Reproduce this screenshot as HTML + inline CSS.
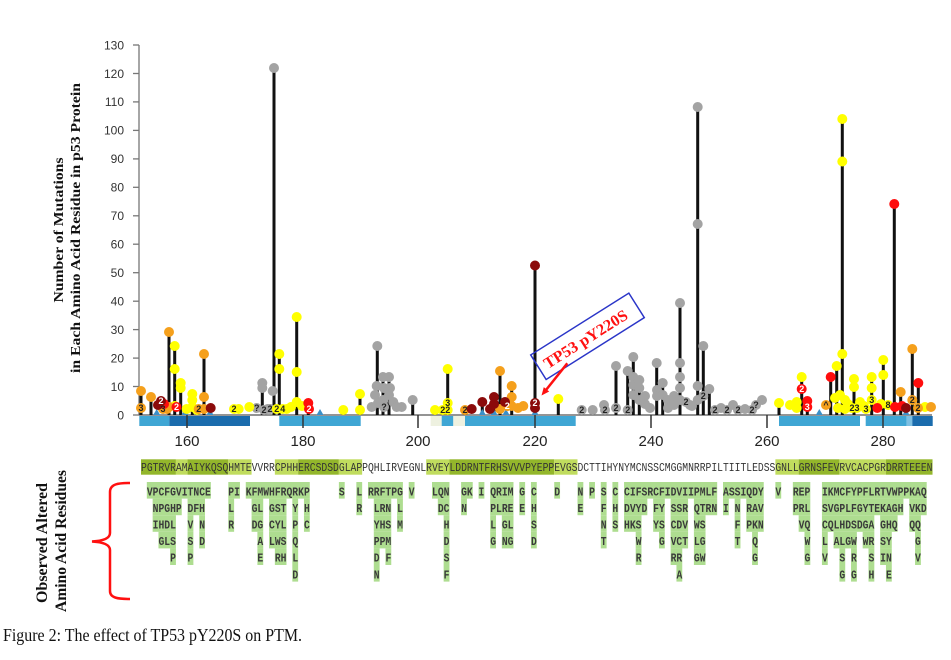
<!DOCTYPE html>
<html><head><meta charset="utf-8"><style>
html,body{margin:0;padding:0;background:#fff;}
svg{display:block;}
.tk{font-family:"Liberation Sans",Arial,sans-serif;font-size:12px;fill:#333;}
.xt{font-family:"Liberation Sans",Arial,sans-serif;font-size:15px;fill:#222;}
.ti{font-family:"Liberation Serif","Times New Roman",serif;font-weight:bold;fill:#111;}
.sq{font-family:"Liberation Mono",monospace;font-size:12px;fill:#333;}
.g text{font-family:"Liberation Mono",monospace;font-weight:bold;font-size:12px;fill:#3a3a3a;}
.lb{font-family:"Liberation Sans",Arial,sans-serif;font-weight:bold;font-size:9px;text-anchor:middle;}
</style></head><body>
<svg width="951" height="660" viewBox="0 0 951 660" xmlns="http://www.w3.org/2000/svg">
<rect width="951" height="660" fill="#fff"/>

<!-- Y axis title -->
<text class="ti" font-size="14" text-anchor="middle" textLength="145" lengthAdjust="spacingAndGlyphs" transform="translate(63,230) rotate(-90)">Number of Mutations</text>
<text class="ti" font-size="14" text-anchor="middle" textLength="290" lengthAdjust="spacingAndGlyphs" transform="translate(80,228) rotate(-90)">in Each Amino Acid Residue in p53 Protein</text>

<!-- Y axis -->
<g stroke="#777" stroke-width="1.3">
<line x1="139" y1="45" x2="139" y2="415"/>
<line x1="133" y1="415" x2="139" y2="415"/><line x1="133" y1="386.5" x2="139" y2="386.5"/><line x1="133" y1="358.1" x2="139" y2="358.1"/><line x1="133" y1="329.6" x2="139" y2="329.6"/><line x1="133" y1="301.2" x2="139" y2="301.2"/><line x1="133" y1="272.7" x2="139" y2="272.7"/><line x1="133" y1="244.2" x2="139" y2="244.2"/><line x1="133" y1="215.8" x2="139" y2="215.8"/><line x1="133" y1="187.3" x2="139" y2="187.3"/><line x1="133" y1="158.9" x2="139" y2="158.9"/><line x1="133" y1="130.4" x2="139" y2="130.4"/><line x1="133" y1="101.9" x2="139" y2="101.9"/><line x1="133" y1="73.5" x2="139" y2="73.5"/><line x1="133" y1="45" x2="139" y2="45"/>
</g>
<g class="tk" text-anchor="end">
<text x="124" y="419.3">0</text><text x="124" y="390.8">10</text><text x="124" y="362.4">20</text><text x="124" y="333.9">30</text><text x="124" y="305.5">40</text><text x="124" y="277">50</text><text x="124" y="248.5">60</text><text x="124" y="220.1">70</text><text x="124" y="191.6">80</text><text x="124" y="163.2">90</text><text x="124" y="134.7">100</text><text x="124" y="106.2">110</text><text x="124" y="77.8">120</text><text x="124" y="49.3">130</text>
</g>

<!-- domain bars -->
<rect x="139.3" y="416" width="30" height="10" fill="#3fa6d4"/>
<rect x="169.3" y="416" width="80.7" height="10" fill="#1a6cad"/>
<rect x="279.3" y="416" width="81.4" height="10" fill="#3fa6d4"/>
<rect x="430.7" y="416" width="11" height="10" fill="#eef1e0"/>
<rect x="441.7" y="416" width="11.6" height="10" fill="#3fa6d4"/>
<rect x="453.3" y="416" width="11.7" height="10" fill="#eef1e0"/>
<rect x="465" y="416" width="110.7" height="10" fill="#3fa6d4"/>
<rect x="779" y="416" width="81" height="10" fill="#3fa6d4"/>
<rect x="865.7" y="416" width="41" height="10" fill="#3fa6d4"/>
<rect x="906.7" y="416" width="5.6" height="10" fill="#7dbfe2"/>
<rect x="912.3" y="416" width="20.4" height="10" fill="#1a6cad"/>

<!-- x axis -->
<line x1="139" y1="415" x2="932" y2="415" stroke="#555" stroke-width="1.2"/>
<g stroke="#333" stroke-width="1.5">
<line x1="187" y1="415" x2="428" y2="415" stroke="none"/>
<line x1="187" y1="415" x2="187" y2="428"/><line x1="303" y1="415" x2="303" y2="428"/><line x1="418" y1="415" x2="418" y2="428"/><line x1="535" y1="415" x2="535" y2="428"/><line x1="651" y1="415" x2="651" y2="428"/><line x1="767" y1="415" x2="767" y2="428"/><line x1="883" y1="415" x2="883" y2="428"/>
</g>
<g class="xt" text-anchor="middle">
<text x="187" y="446">160</text><text x="303" y="446">180</text><text x="418" y="446">200</text><text x="535" y="446">220</text><text x="651" y="446">240</text><text x="767" y="446">260</text><text x="883" y="446">280</text>
</g>

<!-- sticks -->
<g stroke="#111" stroke-width="3">
<line x1="141" y1="415" x2="141" y2="391"/>
<line x1="151" y1="415" x2="151" y2="397"/>
<line x1="169" y1="415" x2="169" y2="332"/>
<line x1="174.7" y1="415" x2="174.7" y2="346"/>
<line x1="180.7" y1="415" x2="180.7" y2="383"/>
<line x1="192.3" y1="415" x2="192.3" y2="394"/>
<line x1="204" y1="415" x2="204" y2="354"/>
<line x1="262.3" y1="415" x2="262.3" y2="383"/>
<line x1="274" y1="415" x2="274" y2="68"/>
<line x1="279.3" y1="415" x2="279.3" y2="354"/>
<line x1="296.7" y1="415" x2="296.7" y2="317"/>
<line x1="308.3" y1="415" x2="308.3" y2="403"/>
<line x1="360" y1="415" x2="360" y2="394"/>
<line x1="377.3" y1="415" x2="377.3" y2="346"/>
<line x1="383" y1="415" x2="383" y2="377"/>
<line x1="389" y1="415" x2="389" y2="377"/>
<line x1="412.7" y1="415" x2="412.7" y2="400"/>
<line x1="447.7" y1="415" x2="447.7" y2="369"/>
<line x1="482.3" y1="415" x2="482.3" y2="402"/>
<line x1="494" y1="415" x2="494" y2="397"/>
<line x1="500" y1="415" x2="500" y2="371"/>
<line x1="511.7" y1="415" x2="511.7" y2="386"/>
<line x1="535" y1="415" x2="535" y2="265.5"/>
<line x1="558.3" y1="415" x2="558.3" y2="399"/>
<line x1="616" y1="415" x2="616" y2="366"/>
<line x1="627.7" y1="415" x2="627.7" y2="371"/>
<line x1="633.3" y1="415" x2="633.3" y2="357"/>
<line x1="639.3" y1="415" x2="639.3" y2="380"/>
<line x1="656.7" y1="415" x2="656.7" y2="363"/>
<line x1="662.7" y1="415" x2="662.7" y2="383"/>
<line x1="680" y1="415" x2="680" y2="303"/>
<line x1="697.7" y1="415" x2="697.7" y2="107"/>
<line x1="703.3" y1="415" x2="703.3" y2="346"/>
<line x1="709.3" y1="415" x2="709.3" y2="389"/>
<line x1="779" y1="415" x2="779" y2="403"/>
<line x1="801.7" y1="415" x2="801.7" y2="377"/>
<line x1="807.3" y1="415" x2="807.3" y2="401"/>
<line x1="830.7" y1="415" x2="830.7" y2="377"/>
<line x1="836.7" y1="415" x2="836.7" y2="366"/>
<line x1="842.3" y1="415" x2="842.3" y2="119"/>
<line x1="854" y1="415" x2="854" y2="379"/>
<line x1="871.7" y1="415" x2="871.7" y2="377"/>
<line x1="883.3" y1="415" x2="883.3" y2="360"/>
<line x1="894.3" y1="415" x2="894.3" y2="204"/>
<line x1="900.7" y1="415" x2="900.7" y2="392"/>
<line x1="912.3" y1="415" x2="912.3" y2="349"/>
<line x1="918.3" y1="415" x2="918.3" y2="383"/>
</g>

<!-- blue triangles -->
<g fill="#3a8fc8">
<polygon points="153.2,415 156.7,409 160.2,415"/><polygon points="181.5,415 185,409 188.5,415"/><polygon points="206.5,415 210,409 213.5,415"/><polygon points="316.5,415 320,409 323.5,415"/><polygon points="478.8,415 482.3,409 485.8,415"/><polygon points="490.5,415 494,409 497.5,415"/><polygon points="502.5,415 506,409 509.5,415"/><polygon points="531.5,415 535,409 538.5,415"/><polygon points="815.8,415 819.3,409 822.8,415"/><polygon points="902.5,415 906,409 909.5,415"/>
</g>

<!-- grey circles -->
<g fill="#a3a3a3">
<circle cx="256.7" cy="408" r="5"/><circle cx="262.3" cy="383" r="5"/><circle cx="262.3" cy="388" r="5"/><circle cx="264" cy="410" r="5"/><circle cx="267.7" cy="409" r="5"/><circle cx="270" cy="409" r="5"/><circle cx="272.7" cy="391" r="5"/><circle cx="274" cy="68" r="5"/>
<circle cx="377.3" cy="346" r="5"/><circle cx="376.7" cy="386" r="5"/><circle cx="375" cy="395" r="5"/><circle cx="371.7" cy="407" r="5"/><circle cx="383" cy="377" r="5"/><circle cx="389" cy="377" r="5"/><circle cx="384" cy="388" r="5"/><circle cx="390" cy="388" r="5"/><circle cx="383.3" cy="400" r="5"/><circle cx="393.3" cy="402" r="5"/><circle cx="396.7" cy="407" r="5"/><circle cx="401.7" cy="407" r="5"/><circle cx="384" cy="407" r="5"/><circle cx="378" cy="403" r="5"/><circle cx="389" cy="395" r="5"/><circle cx="412.7" cy="400" r="5"/>
<circle cx="581.7" cy="410" r="5"/><circle cx="592.7" cy="410" r="5"/><circle cx="604" cy="405" r="5"/><circle cx="605" cy="410" r="5"/><circle cx="616" cy="366" r="5"/><circle cx="616" cy="408" r="5"/><circle cx="627.7" cy="371" r="5"/><circle cx="627.7" cy="410" r="5"/><circle cx="633.3" cy="357" r="5"/><circle cx="633.3" cy="377" r="5"/><circle cx="633.3" cy="385" r="5"/><circle cx="633.3" cy="395" r="5"/><circle cx="639.3" cy="380" r="5"/><circle cx="639.3" cy="388" r="5"/><circle cx="639.3" cy="400" r="5"/><circle cx="645" cy="396" r="5"/><circle cx="645" cy="404" r="5"/><circle cx="650" cy="408" r="5"/><circle cx="656.7" cy="363" r="5"/><circle cx="657" cy="390" r="5"/><circle cx="657" cy="396" r="5"/><circle cx="662.7" cy="383" r="5"/><circle cx="662.7" cy="395" r="5"/><circle cx="668" cy="400" r="5"/><circle cx="668" cy="408" r="5"/><circle cx="674" cy="396" r="5"/><circle cx="674" cy="405" r="5"/><circle cx="680" cy="303" r="5"/><circle cx="680" cy="363" r="5"/><circle cx="680" cy="377" r="5"/><circle cx="680" cy="388" r="5"/><circle cx="680" cy="400" r="5"/><circle cx="686" cy="402" r="5"/><circle cx="690" cy="405" r="5"/><circle cx="692" cy="406" r="5"/><circle cx="697.7" cy="107" r="5"/><circle cx="697.7" cy="224" r="5"/><circle cx="697.7" cy="386" r="5"/><circle cx="697.7" cy="400" r="5"/><circle cx="703.3" cy="346" r="5"/><circle cx="703.3" cy="396" r="5"/><circle cx="709.3" cy="389" r="5"/><circle cx="715" cy="410" r="5"/><circle cx="721" cy="408" r="5"/><circle cx="727" cy="410" r="5"/><circle cx="733" cy="405" r="5"/><circle cx="738" cy="410" r="5"/><circle cx="745" cy="409" r="5"/><circle cx="752" cy="410" r="5"/><circle cx="756" cy="405" r="5"/><circle cx="762" cy="400" r="5"/>
</g>

<!-- yellow circles -->
<g fill="#ffff00">
<circle cx="174.7" cy="346" r="5"/><circle cx="174.7" cy="369" r="5"/><circle cx="174.7" cy="406" r="5"/><circle cx="180.7" cy="383" r="5"/><circle cx="180.7" cy="388" r="5"/><circle cx="186.7" cy="409" r="5"/><circle cx="192.3" cy="394" r="5"/><circle cx="192.3" cy="400" r="5"/><circle cx="192.3" cy="407" r="5"/><circle cx="197" cy="410" r="5"/>
<circle cx="234" cy="409" r="5"/><circle cx="238.7" cy="409" r="5"/><circle cx="249.3" cy="407" r="5"/>
<circle cx="276.7" cy="409" r="5"/><circle cx="279.3" cy="354" r="5"/><circle cx="279.3" cy="369" r="5"/><circle cx="282.7" cy="409" r="5"/><circle cx="286.7" cy="409" r="5"/><circle cx="291" cy="407" r="5"/><circle cx="296.7" cy="317" r="5"/><circle cx="296.7" cy="372" r="5"/><circle cx="296.7" cy="402" r="5"/><circle cx="302" cy="406" r="5"/>
<circle cx="343.3" cy="410" r="5"/><circle cx="360" cy="394" r="5"/><circle cx="360" cy="410" r="5"/>
<circle cx="435" cy="410" r="5"/><circle cx="442.7" cy="410" r="5"/><circle cx="447.7" cy="369" r="5"/><circle cx="447.7" cy="403" r="5"/><circle cx="447.7" cy="410" r="5"/>
<circle cx="558.3" cy="399" r="5"/>
<circle cx="779" cy="403" r="5"/><circle cx="790" cy="405" r="5"/><circle cx="796.7" cy="402" r="5"/><circle cx="796.7" cy="408" r="5"/><circle cx="801.7" cy="377" r="5"/>
<circle cx="836.7" cy="366" r="5"/><circle cx="842.3" cy="119" r="5"/><circle cx="842.3" cy="161.5" r="5"/><circle cx="842.3" cy="354" r="5"/>
<circle cx="835" cy="398" r="5"/><circle cx="840" cy="395" r="5"/><circle cx="845" cy="400" r="5"/><circle cx="848" cy="404" r="5"/><circle cx="838" cy="408" r="5"/><circle cx="845" cy="409" r="5"/><circle cx="852" cy="408" r="5"/><circle cx="857" cy="408" r="5"/><circle cx="860" cy="402" r="5"/><circle cx="864" cy="406" r="5"/>
<circle cx="854" cy="379" r="5"/><circle cx="854" cy="387" r="5"/><circle cx="871.7" cy="377" r="5"/><circle cx="871.7" cy="388" r="5"/><circle cx="871.7" cy="400" r="5"/><circle cx="866" cy="409" r="5"/><circle cx="881" cy="404" r="5"/><circle cx="883.3" cy="360" r="5"/><circle cx="883.3" cy="375" r="5"/><circle cx="888" cy="405" r="5"/><circle cx="925" cy="407" r="5"/>
</g>

<!-- orange circles -->
<g fill="#f5a01c">
<circle cx="141" cy="391" r="5"/><circle cx="141" cy="408" r="5"/><circle cx="151" cy="397" r="5"/><circle cx="163" cy="409" r="5"/><circle cx="167" cy="409" r="5"/><circle cx="169" cy="332" r="5"/><circle cx="169" cy="407" r="5"/><circle cx="204" cy="354" r="5"/><circle cx="204" cy="397" r="5"/><circle cx="204" cy="409" r="5"/><circle cx="198.7" cy="409" r="5"/>
<circle cx="465" cy="410" r="5"/><circle cx="500" cy="371" r="5"/><circle cx="500" cy="409" r="5"/><circle cx="507.3" cy="406" r="5"/><circle cx="511.7" cy="386" r="5"/><circle cx="511.7" cy="397" r="5"/><circle cx="511.7" cy="406" r="5"/><circle cx="518" cy="408" r="5"/><circle cx="523.3" cy="406" r="5"/>
<circle cx="826" cy="405" r="5"/><circle cx="900.7" cy="392" r="5"/><circle cx="912.3" cy="349" r="5"/><circle cx="912.3" cy="400" r="5"/><circle cx="918" cy="408" r="5"/><circle cx="931" cy="407" r="5"/>
</g>

<!-- red circles -->
<g fill="#ff0d0d">
<circle cx="164" cy="404" r="5"/><circle cx="176.5" cy="407" r="5"/><circle cx="308.3" cy="403" r="5"/><circle cx="309" cy="409" r="5"/>
<circle cx="801.7" cy="389" r="5"/><circle cx="807.3" cy="401" r="5"/><circle cx="807.3" cy="407" r="5"/><circle cx="830.7" cy="377" r="5"/><circle cx="877.3" cy="408" r="5"/><circle cx="894.3" cy="204" r="5"/><circle cx="895" cy="407" r="5"/><circle cx="902" cy="406" r="5"/><circle cx="918.3" cy="383" r="5"/>
</g>

<!-- dark red circles -->
<g fill="#8b0a0a">
<circle cx="158" cy="405" r="5"/><circle cx="161" cy="401" r="5"/><circle cx="210.7" cy="408" r="5"/>
<circle cx="471.7" cy="409" r="5"/><circle cx="482.3" cy="402" r="5"/><circle cx="494" cy="397" r="5"/><circle cx="494" cy="404" r="5"/><circle cx="490" cy="409" r="5"/><circle cx="505" cy="402" r="5"/>
<circle cx="535" cy="265.5" r="5"/><circle cx="535" cy="403" r="5"/><circle cx="535" cy="408" r="5"/><circle cx="906" cy="408" r="5"/>
</g>

<!-- circle labels -->
<g class="lb" fill="#222">
<text x="141" y="411">3</text><text x="163" y="412">3</text><text x="198.7" y="412">2</text><text x="234" y="412">2</text><text x="256.7" y="411">?</text><text x="264" y="413">2</text><text x="270" y="412">2</text><text x="276.7" y="412">2</text><text x="282.7" y="412">4</text><text x="384" y="410">?</text><text x="442.7" y="413">2</text><text x="447.7" y="406">3</text><text x="447.7" y="413">2</text><text x="465" y="413">2</text><text x="581.7" y="413">2</text><text x="605" y="413">2</text><text x="616" y="411">2</text><text x="627.7" y="413">2</text><text x="686" y="405">2</text><text x="703.3" y="399">2</text><text x="715" y="413">2</text><text x="727" y="413">2</text><text x="738" y="413">2</text><text x="752" y="413">2</text><text x="756" y="408">?</text><text x="852" y="411">2</text><text x="857" y="411">3</text><text x="871.7" y="403">3</text><text x="866" y="412">3</text><text x="888" y="408">8</text><text x="912.3" y="403">2</text><text x="918" y="411">2</text><text x="826" y="408">^</text>
</g>
<g class="lb" fill="#fff">
<text x="161" y="404">2</text><text x="176.5" y="410">2</text><text x="309" y="412">2</text><text x="507.3" y="409">2</text><text x="535" y="406">2</text><text x="801.7" y="392">2</text><text x="807.3" y="410">3</text>
</g>

<!-- annotation -->
<rect x="-58" y="-14.5" width="116" height="29" fill="none" stroke="#2a35c8" stroke-width="1.5" transform="translate(587.5,336.3) rotate(-32.2)"/>
<text font-family="Liberation Serif, serif" font-weight="bold" font-size="16" fill="#ff1010" text-anchor="middle" textLength="96" lengthAdjust="spacingAndGlyphs" transform="translate(585.5,339) rotate(-32.2)" y="5.5">TP53 pY220S</text>
<line x1="567.3" y1="363.3" x2="546" y2="390" stroke="#ff1010" stroke-width="2.5"/>
<polygon points="541.5,395.5 549.2,391.5 543.8,387.1" fill="#ff1010"/>

<!-- sequence row -->
<g>
<rect x="141" y="459.3" width="34.92" height="15.4" fill="#93b62b"/>
<rect x="175.92" y="459.3" width="11.64" height="15.4" fill="#c0dc5e"/>
<rect x="187.56" y="459.3" width="40.74" height="15.4" fill="#93b62b"/>
<rect x="228.3" y="459.3" width="23.28" height="15.4" fill="#c0dc5e"/>
<rect x="274.86" y="459.3" width="23.28" height="15.4" fill="#c0dc5e"/>
<rect x="298.14" y="459.3" width="40.74" height="15.4" fill="#93b62b"/>
<rect x="338.88" y="459.3" width="23.28" height="15.4" fill="#c0dc5e"/>
<rect x="426.18" y="459.3" width="23.28" height="15.4" fill="#c0dc5e"/>
<rect x="449.46" y="459.3" width="104.76" height="15.4" fill="#93b62b"/>
<rect x="554.22" y="459.3" width="23.28" height="15.4" fill="#c0dc5e"/>
<rect x="775.38" y="459.3" width="23.28" height="15.4" fill="#c0dc5e"/>
<rect x="798.66" y="459.3" width="40.74" height="15.4" fill="#93b62b"/>
<rect x="839.4" y="459.3" width="46.56" height="15.4" fill="#c0dc5e"/>
<rect x="885.96" y="459.3" width="46.56" height="15.4" fill="#93b62b"/>
</g>
<text class="sq" x="141" y="471" textLength="791.5" lengthAdjust="spacingAndGlyphs">PGTRVRAMAIYKQSQHMTEVVRRCPHHERCSDSDGLAPPQHLIRVEGNLRVEYLDDRNTFRHSVVVPYEPPEVGSDCTTIHYNYMCNSSCMGGMNRRPILTIITLEDSSGNLLGRNSFEVRVCACPGRDRRTEEEN</text>

<!-- observed residues grid backgrounds -->
<g fill="#aedd90">
<!-- row0 y482 -->
<rect x="146.82" y="482" width="64.02" height="16.6"/><rect x="228.3" y="482" width="11.64" height="16.6"/><rect x="245.76" y="482" width="64.02" height="16.6"/><rect x="338.88" y="482" width="5.82" height="16.6"/><rect x="356.34" y="482" width="5.82" height="16.6"/><rect x="367.98" y="482" width="34.92" height="16.6"/><rect x="408.72" y="482" width="5.82" height="16.6"/><rect x="432" y="482" width="17.46" height="16.6"/><rect x="461.1" y="482" width="11.64" height="16.6"/><rect x="478.56" y="482" width="5.82" height="16.6"/><rect x="490.2" y="482" width="23.28" height="16.6"/><rect x="519.3" y="482" width="5.82" height="16.6"/><rect x="530.94" y="482" width="5.82" height="16.6"/><rect x="554.22" y="482" width="5.82" height="16.6"/><rect x="577.5" y="482" width="5.82" height="16.6"/><rect x="589.14" y="482" width="5.82" height="16.6"/><rect x="600.78" y="482" width="5.82" height="16.6"/><rect x="612.42" y="482" width="5.82" height="16.6"/><rect x="624.06" y="482" width="93.12" height="16.6"/><rect x="723" y="482" width="40.74" height="16.6"/><rect x="775.38" y="482" width="5.82" height="16.6"/><rect x="792.84" y="482" width="17.46" height="16.6"/><rect x="821.94" y="482" width="104.76" height="16.6"/>
<!-- row1 y498.6 -->
<rect x="152.64" y="498.6" width="29.1" height="16.6"/><rect x="187.56" y="498.6" width="17.46" height="16.6"/><rect x="228.3" y="498.6" width="5.82" height="16.6"/><rect x="251.58" y="498.6" width="11.64" height="16.6"/><rect x="269.04" y="498.6" width="17.46" height="16.6"/><rect x="292.32" y="498.6" width="5.82" height="16.6"/><rect x="303.96" y="498.6" width="5.82" height="16.6"/><rect x="356.34" y="498.6" width="5.82" height="16.6"/><rect x="373.8" y="498.6" width="17.46" height="16.6"/><rect x="397.08" y="498.6" width="5.82" height="16.6"/><rect x="437.82" y="498.6" width="11.64" height="16.6"/><rect x="461.1" y="498.6" width="5.82" height="16.6"/><rect x="490.2" y="498.6" width="23.28" height="16.6"/><rect x="519.3" y="498.6" width="5.82" height="16.6"/><rect x="530.94" y="498.6" width="5.82" height="16.6"/><rect x="577.5" y="498.6" width="5.82" height="16.6"/><rect x="600.78" y="498.6" width="5.82" height="16.6"/><rect x="612.42" y="498.6" width="5.82" height="16.6"/><rect x="624.06" y="498.6" width="23.28" height="16.6"/><rect x="653.16" y="498.6" width="11.64" height="16.6"/><rect x="670.62" y="498.6" width="17.46" height="16.6"/><rect x="693.9" y="498.6" width="23.28" height="16.6"/><rect x="723" y="498.6" width="5.82" height="16.6"/><rect x="734.64" y="498.6" width="5.82" height="16.6"/><rect x="746.28" y="498.6" width="17.46" height="16.6"/><rect x="792.84" y="498.6" width="17.46" height="16.6"/><rect x="821.94" y="498.6" width="81.48" height="16.6"/><rect x="909.24" y="498.6" width="17.46" height="16.6"/>
<!-- row2 y515.2 -->
<rect x="152.64" y="515.2" width="23.28" height="16.6"/><rect x="187.56" y="515.2" width="5.82" height="16.6"/><rect x="199.2" y="515.2" width="5.82" height="16.6"/><rect x="228.3" y="515.2" width="5.82" height="16.6"/><rect x="251.58" y="515.2" width="11.64" height="16.6"/><rect x="269.04" y="515.2" width="17.46" height="16.6"/><rect x="292.32" y="515.2" width="5.82" height="16.6"/><rect x="303.96" y="515.2" width="5.82" height="16.6"/><rect x="373.8" y="515.2" width="17.46" height="16.6"/><rect x="397.08" y="515.2" width="5.82" height="16.6"/><rect x="443.64" y="515.2" width="5.82" height="16.6"/><rect x="490.2" y="515.2" width="5.82" height="16.6"/><rect x="501.84" y="515.2" width="11.64" height="16.6"/><rect x="530.94" y="515.2" width="5.82" height="16.6"/><rect x="600.78" y="515.2" width="5.82" height="16.6"/><rect x="612.42" y="515.2" width="5.82" height="16.6"/><rect x="624.06" y="515.2" width="17.46" height="16.6"/><rect x="653.16" y="515.2" width="11.64" height="16.6"/><rect x="670.62" y="515.2" width="17.46" height="16.6"/><rect x="693.9" y="515.2" width="11.64" height="16.6"/><rect x="734.64" y="515.2" width="5.82" height="16.6"/><rect x="746.28" y="515.2" width="17.46" height="16.6"/><rect x="798.66" y="515.2" width="11.64" height="16.6"/><rect x="821.94" y="515.2" width="52.38" height="16.6"/><rect x="880.14" y="515.2" width="17.46" height="16.6"/><rect x="909.24" y="515.2" width="11.64" height="16.6"/>
<!-- row3 y531.8 -->
<rect x="158.46" y="531.8" width="17.46" height="16.6"/><rect x="187.56" y="531.8" width="5.82" height="16.6"/><rect x="199.2" y="531.8" width="5.82" height="16.6"/><rect x="257.4" y="531.8" width="5.82" height="16.6"/><rect x="269.04" y="531.8" width="17.46" height="16.6"/><rect x="292.32" y="531.8" width="5.82" height="16.6"/><rect x="373.8" y="531.8" width="17.46" height="16.6"/><rect x="443.64" y="531.8" width="5.82" height="16.6"/><rect x="490.2" y="531.8" width="5.82" height="16.6"/><rect x="501.84" y="531.8" width="11.64" height="16.6"/><rect x="530.94" y="531.8" width="5.82" height="16.6"/><rect x="600.78" y="531.8" width="5.82" height="16.6"/><rect x="635.7" y="531.8" width="5.82" height="16.6"/><rect x="658.98" y="531.8" width="5.82" height="16.6"/><rect x="670.62" y="531.8" width="17.46" height="16.6"/><rect x="693.9" y="531.8" width="11.64" height="16.6"/><rect x="734.64" y="531.8" width="5.82" height="16.6"/><rect x="752.1" y="531.8" width="5.82" height="16.6"/><rect x="804.48" y="531.8" width="5.82" height="16.6"/><rect x="821.94" y="531.8" width="5.82" height="16.6"/><rect x="833.58" y="531.8" width="23.28" height="16.6"/><rect x="862.68" y="531.8" width="11.64" height="16.6"/><rect x="880.14" y="531.8" width="11.64" height="16.6"/><rect x="915.06" y="531.8" width="5.82" height="16.6"/>
<!-- row4 y548.4 -->
<rect x="170.1" y="548.4" width="5.82" height="16.6"/><rect x="187.56" y="548.4" width="5.82" height="16.6"/><rect x="257.4" y="548.4" width="5.82" height="16.6"/><rect x="274.86" y="548.4" width="11.64" height="16.6"/><rect x="292.32" y="548.4" width="5.82" height="16.6"/><rect x="373.8" y="548.4" width="5.82" height="16.6"/><rect x="385.44" y="548.4" width="5.82" height="16.6"/><rect x="443.64" y="548.4" width="5.82" height="16.6"/><rect x="635.7" y="548.4" width="5.82" height="16.6"/><rect x="670.62" y="548.4" width="11.64" height="16.6"/><rect x="693.9" y="548.4" width="11.64" height="16.6"/><rect x="752.1" y="548.4" width="5.82" height="16.6"/><rect x="804.48" y="548.4" width="5.82" height="16.6"/><rect x="821.94" y="548.4" width="5.82" height="16.6"/><rect x="839.4" y="548.4" width="5.82" height="16.6"/><rect x="851.04" y="548.4" width="5.82" height="16.6"/><rect x="868.5" y="548.4" width="5.82" height="16.6"/><rect x="880.14" y="548.4" width="11.64" height="16.6"/><rect x="915.06" y="548.4" width="5.82" height="16.6"/>
<!-- row5 y565 -->
<rect x="292.32" y="565" width="5.82" height="16.6"/><rect x="373.8" y="565" width="5.82" height="16.6"/><rect x="443.64" y="565" width="5.82" height="16.6"/><rect x="676.44" y="565" width="5.82" height="16.6"/><rect x="839.4" y="565" width="5.82" height="16.6"/><rect x="851.04" y="565" width="5.82" height="16.6"/><rect x="868.5" y="565" width="5.82" height="16.6"/><rect x="885.96" y="565" width="5.82" height="16.6"/>
</g>

<!-- observed residues grid text -->
<g class="g">
<!-- row0 -->
<text x="146.82" y="495.3" textLength="64.02" lengthAdjust="spacingAndGlyphs">VPCFGVITNCE</text>
<text x="228.3" y="495.3" textLength="11.64" lengthAdjust="spacingAndGlyphs">PI</text>
<text x="245.76" y="495.3" textLength="64.02" lengthAdjust="spacingAndGlyphs">KFMWHFRQRKP</text>
<text x="338.88" y="495.3" textLength="5.82" lengthAdjust="spacingAndGlyphs">S</text>
<text x="356.34" y="495.3" textLength="5.82" lengthAdjust="spacingAndGlyphs">L</text>
<text x="367.98" y="495.3" textLength="34.92" lengthAdjust="spacingAndGlyphs">RRFTPG</text>
<text x="408.72" y="495.3" textLength="5.82" lengthAdjust="spacingAndGlyphs">V</text>
<text x="432" y="495.3" textLength="17.46" lengthAdjust="spacingAndGlyphs">LQN</text>
<text x="461.1" y="495.3" textLength="11.64" lengthAdjust="spacingAndGlyphs">GK</text>
<text x="478.56" y="495.3" textLength="5.82" lengthAdjust="spacingAndGlyphs">I</text>
<text x="490.2" y="495.3" textLength="23.28" lengthAdjust="spacingAndGlyphs">QRIM</text>
<text x="519.3" y="495.3" textLength="5.82" lengthAdjust="spacingAndGlyphs">G</text>
<text x="530.94" y="495.3" textLength="5.82" lengthAdjust="spacingAndGlyphs">C</text>
<text x="554.22" y="495.3" textLength="5.82" lengthAdjust="spacingAndGlyphs">D</text>
<text x="577.5" y="495.3" textLength="5.82" lengthAdjust="spacingAndGlyphs">N</text>
<text x="589.14" y="495.3" textLength="5.82" lengthAdjust="spacingAndGlyphs">P</text>
<text x="600.78" y="495.3" textLength="5.82" lengthAdjust="spacingAndGlyphs">S</text>
<text x="612.42" y="495.3" textLength="5.82" lengthAdjust="spacingAndGlyphs">C</text>
<text x="624.06" y="495.3" textLength="93.12" lengthAdjust="spacingAndGlyphs">CIFSRCFIDVIIPMLF</text>
<text x="723" y="495.3" textLength="40.74" lengthAdjust="spacingAndGlyphs">ASSIQDY</text>
<text x="775.38" y="495.3" textLength="5.82" lengthAdjust="spacingAndGlyphs">V</text>
<text x="792.84" y="495.3" textLength="17.46" lengthAdjust="spacingAndGlyphs">REP</text>
<text x="821.94" y="495.3" textLength="104.76" lengthAdjust="spacingAndGlyphs">IKMCFYPFLRTVWPPKAQ</text>
<!-- row1 -->
<text x="152.64" y="511.9" textLength="29.1" lengthAdjust="spacingAndGlyphs">NPGHP</text>
<text x="187.56" y="511.9" textLength="17.46" lengthAdjust="spacingAndGlyphs">DFH</text>
<text x="228.3" y="511.9" textLength="5.82" lengthAdjust="spacingAndGlyphs">L</text>
<text x="251.58" y="511.9" textLength="11.64" lengthAdjust="spacingAndGlyphs">GL</text>
<text x="269.04" y="511.9" textLength="17.46" lengthAdjust="spacingAndGlyphs">GST</text>
<text x="292.32" y="511.9" textLength="5.82" lengthAdjust="spacingAndGlyphs">Y</text>
<text x="303.96" y="511.9" textLength="5.82" lengthAdjust="spacingAndGlyphs">H</text>
<text x="356.34" y="511.9" textLength="5.82" lengthAdjust="spacingAndGlyphs">R</text>
<text x="373.8" y="511.9" textLength="17.46" lengthAdjust="spacingAndGlyphs">LRN</text>
<text x="397.08" y="511.9" textLength="5.82" lengthAdjust="spacingAndGlyphs">L</text>
<text x="437.82" y="511.9" textLength="11.64" lengthAdjust="spacingAndGlyphs">DC</text>
<text x="461.1" y="511.9" textLength="5.82" lengthAdjust="spacingAndGlyphs">N</text>
<text x="490.2" y="511.9" textLength="23.28" lengthAdjust="spacingAndGlyphs">PLRE</text>
<text x="519.3" y="511.9" textLength="5.82" lengthAdjust="spacingAndGlyphs">E</text>
<text x="530.94" y="511.9" textLength="5.82" lengthAdjust="spacingAndGlyphs">H</text>
<text x="577.5" y="511.9" textLength="5.82" lengthAdjust="spacingAndGlyphs">E</text>
<text x="600.78" y="511.9" textLength="5.82" lengthAdjust="spacingAndGlyphs">F</text>
<text x="612.42" y="511.9" textLength="5.82" lengthAdjust="spacingAndGlyphs">H</text>
<text x="624.06" y="511.9" textLength="23.28" lengthAdjust="spacingAndGlyphs">DVYD</text>
<text x="653.16" y="511.9" textLength="11.64" lengthAdjust="spacingAndGlyphs">FY</text>
<text x="670.62" y="511.9" textLength="17.46" lengthAdjust="spacingAndGlyphs">SSR</text>
<text x="693.9" y="511.9" textLength="23.28" lengthAdjust="spacingAndGlyphs">QTRN</text>
<text x="723" y="511.9" textLength="5.82" lengthAdjust="spacingAndGlyphs">I</text>
<text x="734.64" y="511.9" textLength="5.82" lengthAdjust="spacingAndGlyphs">N</text>
<text x="746.28" y="511.9" textLength="17.46" lengthAdjust="spacingAndGlyphs">RAV</text>
<text x="792.84" y="511.9" textLength="17.46" lengthAdjust="spacingAndGlyphs">PRL</text>
<text x="821.94" y="511.9" textLength="81.48" lengthAdjust="spacingAndGlyphs">SVGPLFGYTEKAGH</text>
<text x="909.24" y="511.9" textLength="17.46" lengthAdjust="spacingAndGlyphs">VKD</text>
<!-- row2 -->
<text x="152.64" y="528.5" textLength="23.28" lengthAdjust="spacingAndGlyphs">IHDL</text>
<text x="187.56" y="528.5" textLength="5.82" lengthAdjust="spacingAndGlyphs">V</text>
<text x="199.2" y="528.5" textLength="5.82" lengthAdjust="spacingAndGlyphs">N</text>
<text x="228.3" y="528.5" textLength="5.82" lengthAdjust="spacingAndGlyphs">R</text>
<text x="251.58" y="528.5" textLength="11.64" lengthAdjust="spacingAndGlyphs">DG</text>
<text x="269.04" y="528.5" textLength="17.46" lengthAdjust="spacingAndGlyphs">CYL</text>
<text x="292.32" y="528.5" textLength="5.82" lengthAdjust="spacingAndGlyphs">P</text>
<text x="303.96" y="528.5" textLength="5.82" lengthAdjust="spacingAndGlyphs">C</text>
<text x="373.8" y="528.5" textLength="17.46" lengthAdjust="spacingAndGlyphs">YHS</text>
<text x="397.08" y="528.5" textLength="5.82" lengthAdjust="spacingAndGlyphs">M</text>
<text x="443.64" y="528.5" textLength="5.82" lengthAdjust="spacingAndGlyphs">H</text>
<text x="490.2" y="528.5" textLength="5.82" lengthAdjust="spacingAndGlyphs">L</text>
<text x="501.84" y="528.5" textLength="11.64" lengthAdjust="spacingAndGlyphs">GL</text>
<text x="530.94" y="528.5" textLength="5.82" lengthAdjust="spacingAndGlyphs">S</text>
<text x="600.78" y="528.5" textLength="5.82" lengthAdjust="spacingAndGlyphs">N</text>
<text x="612.42" y="528.5" textLength="5.82" lengthAdjust="spacingAndGlyphs">S</text>
<text x="624.06" y="528.5" textLength="17.46" lengthAdjust="spacingAndGlyphs">HKS</text>
<text x="653.16" y="528.5" textLength="11.64" lengthAdjust="spacingAndGlyphs">YS</text>
<text x="670.62" y="528.5" textLength="17.46" lengthAdjust="spacingAndGlyphs">CDV</text>
<text x="693.9" y="528.5" textLength="11.64" lengthAdjust="spacingAndGlyphs">WS</text>
<text x="734.64" y="528.5" textLength="5.82" lengthAdjust="spacingAndGlyphs">F</text>
<text x="746.28" y="528.5" textLength="17.46" lengthAdjust="spacingAndGlyphs">PKN</text>
<text x="798.66" y="528.5" textLength="11.64" lengthAdjust="spacingAndGlyphs">VQ</text>
<text x="821.94" y="528.5" textLength="52.38" lengthAdjust="spacingAndGlyphs">CQLHDSDGA</text>
<text x="880.14" y="528.5" textLength="17.46" lengthAdjust="spacingAndGlyphs">GHQ</text>
<text x="909.24" y="528.5" textLength="11.64" lengthAdjust="spacingAndGlyphs">QQ</text>
<!-- row3 -->
<text x="158.46" y="545.1" textLength="17.46" lengthAdjust="spacingAndGlyphs">GLS</text>
<text x="187.56" y="545.1" textLength="5.82" lengthAdjust="spacingAndGlyphs">S</text>
<text x="199.2" y="545.1" textLength="5.82" lengthAdjust="spacingAndGlyphs">D</text>
<text x="257.4" y="545.1" textLength="5.82" lengthAdjust="spacingAndGlyphs">A</text>
<text x="269.04" y="545.1" textLength="17.46" lengthAdjust="spacingAndGlyphs">LWS</text>
<text x="292.32" y="545.1" textLength="5.82" lengthAdjust="spacingAndGlyphs">Q</text>
<text x="373.8" y="545.1" textLength="17.46" lengthAdjust="spacingAndGlyphs">PPM</text>
<text x="443.64" y="545.1" textLength="5.82" lengthAdjust="spacingAndGlyphs">D</text>
<text x="490.2" y="545.1" textLength="5.82" lengthAdjust="spacingAndGlyphs">G</text>
<text x="501.84" y="545.1" textLength="11.64" lengthAdjust="spacingAndGlyphs">NG</text>
<text x="530.94" y="545.1" textLength="5.82" lengthAdjust="spacingAndGlyphs">D</text>
<text x="600.78" y="545.1" textLength="5.82" lengthAdjust="spacingAndGlyphs">T</text>
<text x="635.7" y="545.1" textLength="5.82" lengthAdjust="spacingAndGlyphs">W</text>
<text x="658.98" y="545.1" textLength="5.82" lengthAdjust="spacingAndGlyphs">G</text>
<text x="670.62" y="545.1" textLength="17.46" lengthAdjust="spacingAndGlyphs">VCT</text>
<text x="693.9" y="545.1" textLength="11.64" lengthAdjust="spacingAndGlyphs">LG</text>
<text x="734.64" y="545.1" textLength="5.82" lengthAdjust="spacingAndGlyphs">T</text>
<text x="752.1" y="545.1" textLength="5.82" lengthAdjust="spacingAndGlyphs">Q</text>
<text x="804.48" y="545.1" textLength="5.82" lengthAdjust="spacingAndGlyphs">W</text>
<text x="821.94" y="545.1" textLength="5.82" lengthAdjust="spacingAndGlyphs">L</text>
<text x="833.58" y="545.1" textLength="23.28" lengthAdjust="spacingAndGlyphs">ALGW</text>
<text x="862.68" y="545.1" textLength="11.64" lengthAdjust="spacingAndGlyphs">WR</text>
<text x="880.14" y="545.1" textLength="11.64" lengthAdjust="spacingAndGlyphs">SY</text>
<text x="915.06" y="545.1" textLength="5.82" lengthAdjust="spacingAndGlyphs">G</text>
<!-- row4 -->
<text x="170.1" y="561.7" textLength="5.82" lengthAdjust="spacingAndGlyphs">P</text>
<text x="187.56" y="561.7" textLength="5.82" lengthAdjust="spacingAndGlyphs">P</text>
<text x="257.4" y="561.7" textLength="5.82" lengthAdjust="spacingAndGlyphs">E</text>
<text x="274.86" y="561.7" textLength="11.64" lengthAdjust="spacingAndGlyphs">RH</text>
<text x="292.32" y="561.7" textLength="5.82" lengthAdjust="spacingAndGlyphs">L</text>
<text x="373.8" y="561.7" textLength="5.82" lengthAdjust="spacingAndGlyphs">D</text>
<text x="385.44" y="561.7" textLength="5.82" lengthAdjust="spacingAndGlyphs">F</text>
<text x="443.64" y="561.7" textLength="5.82" lengthAdjust="spacingAndGlyphs">S</text>
<text x="635.7" y="561.7" textLength="5.82" lengthAdjust="spacingAndGlyphs">R</text>
<text x="670.62" y="561.7" textLength="11.64" lengthAdjust="spacingAndGlyphs">RR</text>
<text x="693.9" y="561.7" textLength="11.64" lengthAdjust="spacingAndGlyphs">GW</text>
<text x="752.1" y="561.7" textLength="5.82" lengthAdjust="spacingAndGlyphs">G</text>
<text x="804.48" y="561.7" textLength="5.82" lengthAdjust="spacingAndGlyphs">G</text>
<text x="821.94" y="561.7" textLength="5.82" lengthAdjust="spacingAndGlyphs">V</text>
<text x="839.4" y="561.7" textLength="5.82" lengthAdjust="spacingAndGlyphs">S</text>
<text x="851.04" y="561.7" textLength="5.82" lengthAdjust="spacingAndGlyphs">R</text>
<text x="868.5" y="561.7" textLength="5.82" lengthAdjust="spacingAndGlyphs">S</text>
<text x="880.14" y="561.7" textLength="11.64" lengthAdjust="spacingAndGlyphs">IN</text>
<text x="915.06" y="561.7" textLength="5.82" lengthAdjust="spacingAndGlyphs">V</text>
<!-- row5 -->
<text x="292.32" y="578.3" textLength="5.82" lengthAdjust="spacingAndGlyphs">D</text>
<text x="373.8" y="578.3" textLength="5.82" lengthAdjust="spacingAndGlyphs">N</text>
<text x="443.64" y="578.3" textLength="5.82" lengthAdjust="spacingAndGlyphs">F</text>
<text x="676.44" y="578.3" textLength="5.82" lengthAdjust="spacingAndGlyphs">A</text>
<text x="839.4" y="578.3" textLength="5.82" lengthAdjust="spacingAndGlyphs">G</text>
<text x="851.04" y="578.3" textLength="5.82" lengthAdjust="spacingAndGlyphs">G</text>
<text x="868.5" y="578.3" textLength="5.82" lengthAdjust="spacingAndGlyphs">H</text>
<text x="885.96" y="578.3" textLength="5.82" lengthAdjust="spacingAndGlyphs">E</text>
</g>

<!-- bracket -->
<path d="M130,483 C118,483 110,484 110,492 L110,533 C110,539 101,541 92,541.5 C101,542 110,544 110,550 L110,591 C110,598 118,599 130,599" fill="none" stroke="#ff1010" stroke-width="2.5"/>

<!-- lower axis title -->
<text class="ti" font-size="15.5" text-anchor="middle" textLength="120" lengthAdjust="spacingAndGlyphs" transform="translate(47,543) rotate(-90)">Observed Altered</text>
<text class="ti" font-size="15.5" text-anchor="middle" textLength="142" lengthAdjust="spacingAndGlyphs" transform="translate(66,541) rotate(-90)">Amino Acid Residues</text>

<!-- caption -->
<text x="3" y="641" font-family="Liberation Serif, serif" font-size="18" fill="#111" textLength="299" lengthAdjust="spacingAndGlyphs">Figure 2: The effect of TP53 pY220S on PTM.</text>
</svg>
</body></html>
